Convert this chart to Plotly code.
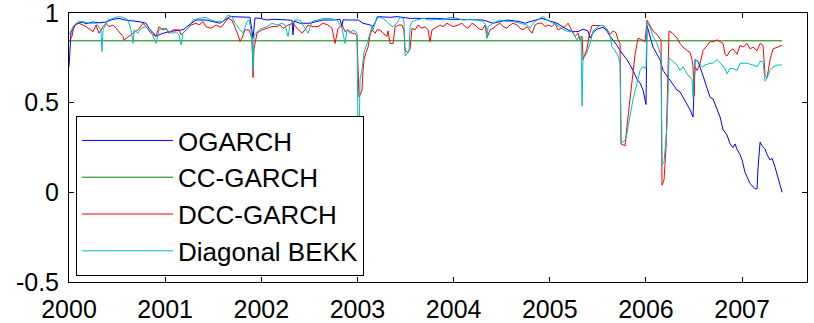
import plotly.graph_objects as go

# Conditional correlation estimates, time in decimal years

ogarch_t = [2000.000, 2000.021, 2000.073, 2000.146, 2000.177, 2000.250, 2000.312, 2000.385, 2000.458, 2000.520,
            2000.593, 2000.666, 2000.728, 2000.801, 2000.832, 2000.874, 2000.905, 2000.978, 2001.040, 2001.113,
            2001.186, 2001.248, 2001.321, 2001.425, 2001.498, 2001.570, 2001.674, 2001.778, 2001.882, 2001.914,
            2001.934, 2001.986, 2002.059, 2002.122, 2002.267, 2002.319, 2002.330, 2002.340, 2002.402, 2002.506,
            2002.569, 2002.642, 2002.746, 2002.818, 2002.839, 2002.850, 2002.922, 2003.006, 2003.058, 2003.131,
            2003.162, 2003.193, 2003.214, 2003.339, 2003.411, 2003.547, 2003.682, 2003.827, 2003.963, 2004.098,
            2004.243, 2004.306, 2004.410, 2004.483, 2004.555, 2004.691, 2004.743, 2004.795, 2004.919, 2004.971,
            2005.075, 2005.159, 2005.231, 2005.294, 2005.346, 2005.398, 2005.419, 2005.450, 2005.491, 2005.554,
            2005.595, 2005.627, 2005.658, 2005.699, 2005.731, 2005.762, 2005.803, 2005.835, 2005.866, 2005.908,
            2005.939, 2005.970, 2006.001, 2006.011, 2006.042, 2006.074, 2006.115, 2006.146, 2006.178, 2006.219,
            2006.250, 2006.282, 2006.323, 2006.355, 2006.386, 2006.428, 2006.459, 2006.490, 2006.511, 2006.542,
            2006.563, 2006.594, 2006.636, 2006.667, 2006.698, 2006.740, 2006.771, 2006.802, 2006.843, 2006.875,
            2006.906, 2006.927, 2006.947, 2006.979, 2007.000, 2007.031, 2007.062, 2007.083, 2007.114, 2007.135,
            2007.156, 2007.166, 2007.187, 2007.208, 2007.239, 2007.260, 2007.291, 2007.312, 2007.343, 2007.374,
            2007.395, 2007.416]
ogarch_v = [0.70, 0.89, 0.94, 0.95, 0.94, 0.95, 0.945, 0.95, 0.965, 0.97,
            0.96, 0.957, 0.952, 0.943, 0.915, 0.89, 0.872, 0.887, 0.896, 0.902,
            0.906, 0.933, 0.961, 0.961, 0.952, 0.943, 0.98, 0.976, 0.976, 0.86,
            0.972, 0.970, 0.961, 0.965, 0.961, 0.96, 0.878, 0.955, 0.943, 0.943,
            0.952, 0.961, 0.961, 0.965, 0.924, 0.962, 0.961, 0.961, 0.943, 0.933,
            0.924, 0.96, 0.98, 0.976, 0.98, 0.970, 0.970, 0.970, 0.965, 0.965,
            0.965, 0.961, 0.943, 0.952, 0.961, 0.952, 0.943, 0.952, 0.970, 0.961,
            0.943, 0.915, 0.896, 0.896, 0.91, 0.90, 0.86, 0.89, 0.91, 0.92,
            0.90, 0.87, 0.85, 0.82, 0.79, 0.77, 0.74, 0.71, 0.68, 0.63,
            0.61, 0.57, 0.49, 0.93, 0.87, 0.81, 0.77, 0.74, 0.68, 0.65,
            0.63, 0.60, 0.57, 0.56, 0.53, 0.49, 0.46, 0.42, 0.74, 0.73,
            0.70, 0.65, 0.58, 0.53, 0.52, 0.46, 0.42, 0.35, 0.32, 0.27,
            0.25, 0.27, 0.24, 0.21, 0.18, 0.11, 0.07, 0.05, 0.03, 0.02,
            0.02, 0.14, 0.28, 0.26, 0.24, 0.21, 0.18, 0.19, 0.14, 0.07,
            0.04, 0.00]

cc_rho = 0.845
cc_t = [2000.000, 2007.416]

dcc_t = [2000.000, 2000.031, 2000.052, 2000.104, 2000.177, 2000.250, 2000.281, 2000.312, 2000.354, 2000.385,
         2000.416, 2000.458, 2000.489, 2000.520, 2000.562, 2000.572, 2000.614, 2000.666, 2000.718, 2000.770,
         2000.801, 2000.853, 2000.905, 2000.936, 2000.978, 2001.009, 2001.040, 2001.082, 2001.144, 2001.165,
         2001.217, 2001.269, 2001.321, 2001.352, 2001.394, 2001.425, 2001.477, 2001.529, 2001.581, 2001.654,
         2001.695, 2001.726, 2001.758, 2001.778, 2001.799, 2001.830, 2001.872, 2001.903, 2001.914, 2001.924,
         2001.955, 2002.007, 2002.059, 2002.111, 2002.163, 2002.194, 2002.226, 2002.278, 2002.330, 2002.371,
         2002.423, 2002.454, 2002.486, 2002.538, 2002.590, 2002.642, 2002.694, 2002.735, 2002.767, 2002.798,
         2002.839, 2002.871, 2002.902, 2002.943, 2002.974, 2002.995, 2003.016, 2003.047, 2003.058, 2003.068,
         2003.089, 2003.110, 2003.131, 2003.151, 2003.183, 2003.203, 2003.235, 2003.266, 2003.307, 2003.318,
         2003.339, 2003.370, 2003.391, 2003.432, 2003.463, 2003.484, 2003.495, 2003.526, 2003.547, 2003.567,
         2003.599, 2003.630, 2003.671, 2003.703, 2003.734, 2003.755, 2003.775, 2003.827, 2003.859, 2003.890,
         2003.931, 2003.963, 2003.994, 2004.046, 2004.087, 2004.119, 2004.150, 2004.191, 2004.223, 2004.254,
         2004.295, 2004.327, 2004.347, 2004.379, 2004.410, 2004.451, 2004.483, 2004.514, 2004.555, 2004.587,
         2004.618, 2004.659, 2004.691, 2004.722, 2004.763, 2004.815, 2004.847, 2004.878, 2004.919, 2004.951,
         2004.982, 2005.023, 2005.055, 2005.086, 2005.127, 2005.159, 2005.190, 2005.231, 2005.263, 2005.294,
         2005.315, 2005.336, 2005.346, 2005.387, 2005.408, 2005.439, 2005.491, 2005.554, 2005.595, 2005.627,
         2005.658, 2005.689, 2005.710, 2005.731, 2005.741, 2005.783, 2005.803, 2005.835, 2005.855, 2005.866,
         2005.887, 2005.908, 2005.918, 2005.959, 2005.991, 2006.011, 2006.042, 2006.074, 2006.115, 2006.146,
         2006.157, 2006.167, 2006.188, 2006.209, 2006.219, 2006.230, 2006.240, 2006.271, 2006.302, 2006.323,
         2006.355, 2006.386, 2006.428, 2006.459, 2006.479, 2006.490, 2006.500, 2006.511, 2006.532, 2006.563,
         2006.594, 2006.636, 2006.667, 2006.698, 2006.740, 2006.771, 2006.802, 2006.823, 2006.843, 2006.875,
         2006.906, 2006.947, 2006.979, 2007.010, 2007.052, 2007.083, 2007.114, 2007.156, 2007.187, 2007.218,
         2007.239, 2007.260, 2007.291, 2007.322, 2007.364, 2007.416]
dcc_v = [0.84, 0.87, 0.93, 0.943, 0.924, 0.896, 0.933, 0.887, 0.924, 0.943,
         0.924, 0.933, 0.915, 0.896, 0.869, 0.85, 0.869, 0.887, 0.906, 0.943,
         0.924, 0.887, 0.869, 0.924, 0.906, 0.915, 0.887, 0.906, 0.906, 0.878,
         0.906, 0.933, 0.943, 0.933, 0.952, 0.924, 0.915, 0.933, 0.92, 0.970,
         0.96, 0.924, 0.878, 0.841, 0.86, 0.906, 0.906, 0.86, 0.64, 0.80,
         0.887, 0.906, 0.915, 0.924, 0.924, 0.933, 0.915, 0.933, 0.943, 0.915,
         0.887, 0.906, 0.933, 0.924, 0.924, 0.943, 0.933, 0.915, 0.83, 0.915,
         0.933, 0.896, 0.906, 0.887, 0.887, 0.869, 0.53, 0.57, 0.68, 0.74,
         0.78, 0.81, 0.878, 0.906, 0.887, 0.906, 0.906, 0.887, 0.869, 0.90,
         0.83, 0.83, 0.924, 0.933, 0.933, 0.90, 0.79, 0.78, 0.80, 0.915,
         0.906, 0.933, 0.915, 0.924, 0.906, 0.84, 0.906, 0.924, 0.933, 0.924,
         0.943, 0.933, 0.924, 0.933, 0.943, 0.924, 0.915, 0.943, 0.933, 0.915,
         0.906, 0.933, 0.86, 0.906, 0.915, 0.933, 0.943, 0.924, 0.915, 0.933,
         0.943, 0.933, 0.915, 0.906, 0.924, 0.887, 0.933, 0.943, 0.943, 0.924,
         0.933, 0.924, 0.943, 0.906, 0.915, 0.924, 0.943, 0.906, 0.869, 0.887,
         0.85, 0.87, 0.74, 0.80, 0.87, 0.93, 0.93, 0.93, 0.91, 0.88,
         0.90, 0.89, 0.85, 0.83, 0.27, 0.26, 0.37, 0.53, 0.61, 0.70,
         0.77, 0.83, 0.86, 0.85, 0.84, 0.96, 0.93, 0.90, 0.88, 0.86,
         0.85, 0.04, 0.07, 0.25, 0.42, 0.70, 0.90, 0.89, 0.87, 0.86,
         0.83, 0.81, 0.79, 0.78, 0.74, 0.70, 0.54, 0.70, 0.68, 0.72,
         0.79, 0.82, 0.84, 0.84, 0.85, 0.84, 0.83, 0.77, 0.76, 0.79,
         0.80, 0.77, 0.82, 0.81, 0.83, 0.80, 0.81, 0.79, 0.83, 0.82,
         0.65, 0.64, 0.74, 0.80, 0.81, 0.82]

bekk_t = [2000.000, 2000.042, 2000.094, 2000.146, 2000.208, 2000.281, 2000.333, 2000.343, 2000.354, 2000.406,
          2000.458, 2000.510, 2000.562, 2000.614, 2000.645, 2000.666, 2000.676, 2000.718, 2000.749, 2000.801,
          2000.853, 2000.884, 2000.905, 2000.936, 2000.978, 2001.009, 2001.040, 2001.082, 2001.113, 2001.144,
          2001.165, 2001.186, 2001.238, 2001.290, 2001.352, 2001.425, 2001.477, 2001.529, 2001.602, 2001.654,
          2001.695, 2001.726, 2001.778, 2001.810, 2001.851, 2001.872, 2001.893, 2001.903, 2001.914, 2001.924,
          2001.955, 2002.007, 2002.059, 2002.111, 2002.163, 2002.215, 2002.246, 2002.278, 2002.298, 2002.350,
          2002.402, 2002.454, 2002.486, 2002.527, 2002.579, 2002.642, 2002.714, 2002.787, 2002.839, 2002.871,
          2002.891, 2002.922, 2002.954, 2002.985, 2002.995, 2003.006, 2003.016, 2003.027, 2003.047, 2003.068,
          2003.099, 2003.131, 2003.151, 2003.162, 2003.203, 2003.235, 2003.266, 2003.307, 2003.339, 2003.370,
          2003.411, 2003.443, 2003.474, 2003.484, 2003.495, 2003.526, 2003.536, 2003.547, 2003.567, 2003.619,
          2003.682, 2003.755, 2003.827, 2003.890, 2003.963, 2004.035, 2004.098, 2004.171, 2004.243, 2004.306,
          2004.337, 2004.347, 2004.358, 2004.410, 2004.483, 2004.555, 2004.618, 2004.691, 2004.763, 2004.795,
          2004.826, 2004.867, 2004.899, 2004.930, 2004.971, 2005.003, 2005.034, 2005.075, 2005.117, 2005.159,
          2005.190, 2005.231, 2005.263, 2005.283, 2005.304, 2005.325, 2005.336, 2005.346, 2005.367, 2005.387,
          2005.398, 2005.419, 2005.450, 2005.491, 2005.523, 2005.554, 2005.595, 2005.627, 2005.647, 2005.679,
          2005.710, 2005.731, 2005.741, 2005.762, 2005.793, 2005.814, 2005.835, 2005.866, 2005.908, 2005.939,
          2005.970, 2006.001, 2006.011, 2006.042, 2006.074, 2006.115, 2006.146, 2006.157, 2006.167, 2006.188,
          2006.209, 2006.219, 2006.230, 2006.240, 2006.282, 2006.323, 2006.355, 2006.386, 2006.428, 2006.459,
          2006.479, 2006.490, 2006.511, 2006.542, 2006.584, 2006.615, 2006.667, 2006.698, 2006.740, 2006.792,
          2006.823, 2006.843, 2006.875, 2006.906, 2006.947, 2006.979, 2007.052, 2007.114, 2007.156, 2007.187,
          2007.218, 2007.239, 2007.260, 2007.291, 2007.322, 2007.364, 2007.416]
bekk_v = [0.878, 0.924, 0.952, 0.952, 0.943, 0.943, 0.906, 0.785, 0.906, 0.961,
          0.970, 0.98, 0.976, 0.961, 0.906, 0.831, 0.906, 0.887, 0.915, 0.924,
          0.896, 0.85, 0.831, 0.906, 0.915, 0.906, 0.896, 0.887, 0.896, 0.878,
          0.822, 0.887, 0.915, 0.961, 0.970, 0.976, 0.961, 0.952, 0.952, 0.989,
          0.98, 0.943, 0.906, 0.887, 0.952, 0.961, 0.906, 0.841, 0.68, 0.87,
          0.896, 0.915, 0.924, 0.943, 0.933, 0.943, 0.933, 0.869, 0.933, 0.961,
          0.961, 0.915, 0.887, 0.952, 0.961, 0.970, 0.970, 0.961, 0.915, 0.83,
          0.906, 0.887, 0.906, 0.896, 0.887, 0.30, 0.30, 0.63, 0.683, 0.78,
          0.83, 0.887, 0.924, 0.906, 0.98, 0.976, 0.970, 0.952, 0.933, 0.924,
          0.943, 0.976, 0.970, 0.95, 0.76, 0.78, 0.79, 0.924, 0.952, 0.961,
          0.970, 0.961, 0.965, 0.961, 0.976, 0.970, 0.961, 0.965, 0.961, 0.952,
          0.93, 0.86, 0.924, 0.943, 0.961, 0.952, 0.952, 0.943, 0.933, 0.915,
          0.943, 0.961, 0.970, 0.98, 0.961, 0.952, 0.943, 0.933, 0.915, 0.906,
          0.896, 0.896, 0.869, 0.85, 0.87, 0.87, 0.48, 0.76, 0.76, 0.78,
          0.80, 0.83, 0.90, 0.92, 0.93, 0.93, 0.91, 0.87, 0.81, 0.79,
          0.76, 0.72, 0.28, 0.28, 0.30, 0.37, 0.44, 0.52, 0.61, 0.68,
          0.70, 0.69, 0.95, 0.92, 0.87, 0.83, 0.78, 0.77, 0.15, 0.17,
          0.30, 0.37, 0.55, 0.75, 0.73, 0.71, 0.68, 0.70, 0.66, 0.64,
          0.63, 0.53, 0.74, 0.73, 0.70, 0.71, 0.72, 0.72, 0.74, 0.71,
          0.69, 0.66, 0.69, 0.69, 0.68, 0.72, 0.72, 0.71, 0.70, 0.73,
          0.73, 0.62, 0.64, 0.68, 0.70, 0.71, 0.71]

year_ticks = [2000, 2001, 2002, 2003, 2004, 2005, 2006, 2007]
year_labels = [str(y) for y in year_ticks]
rho_ticks = [-0.5, 0, 0.5, 1]
rho_labels = ["-0.5", "0", "0.5", "1"]

FONT = "Liberation Sans, Arial, sans-serif"

fig = go.Figure()
series = [
    ("OGARCH", ogarch_t, ogarch_v, "#0000FF"),
    ("CC-GARCH", cc_t, [cc_rho] * len(cc_t), "#008000"),
    ("DCC-GARCH", dcc_t, dcc_v, "#FF0000"),
    ("Diagonal BEKK", bekk_t, bekk_v, "#00BFBF"),
]
for name, t, v, color in series:
    fig.add_trace(go.Scatter(
        x=t, y=v, mode="lines", name=name, legendgroup=name,
        line=dict(color=color, width=1),
    ))

axis_common = dict(
    showline=True, linecolor="black", linewidth=1, mirror="ticks",
    ticks="inside", ticklen=5, tickcolor="black", tickwidth=1,
    showgrid=False, zeroline=False, automargin=False,
    ticklabeloverflow="allow",
    tickfont=dict(family=FONT, size=25, color="black"),
)

fig.update_layout(
    width=814, height=323,
    margin=dict(l=69, r=7, t=13, b=41),
    paper_bgcolor="white", plot_bgcolor="white",
    xaxis=dict(range=[2000, 2007.675], tickvals=year_ticks, ticktext=year_labels,
               ticklabelstandoff=5, **axis_common),
    yaxis=dict(range=[-0.5001, 1.0001], tickvals=rho_ticks, ticktext=rho_labels,
               ticklabelstandoff=4, **axis_common),
    legend=dict(
        x=0.0095, y=0.617, xanchor="left", yanchor="top",
        bgcolor="white", bordercolor="black", borderwidth=1,
        font=dict(family=FONT, size=26, color="black"),
        itemwidth=91, tracegroupgap=0,
    ),
    showlegend=True,
)

fig.write_html("out.html", config={"displayModeBar": False})
